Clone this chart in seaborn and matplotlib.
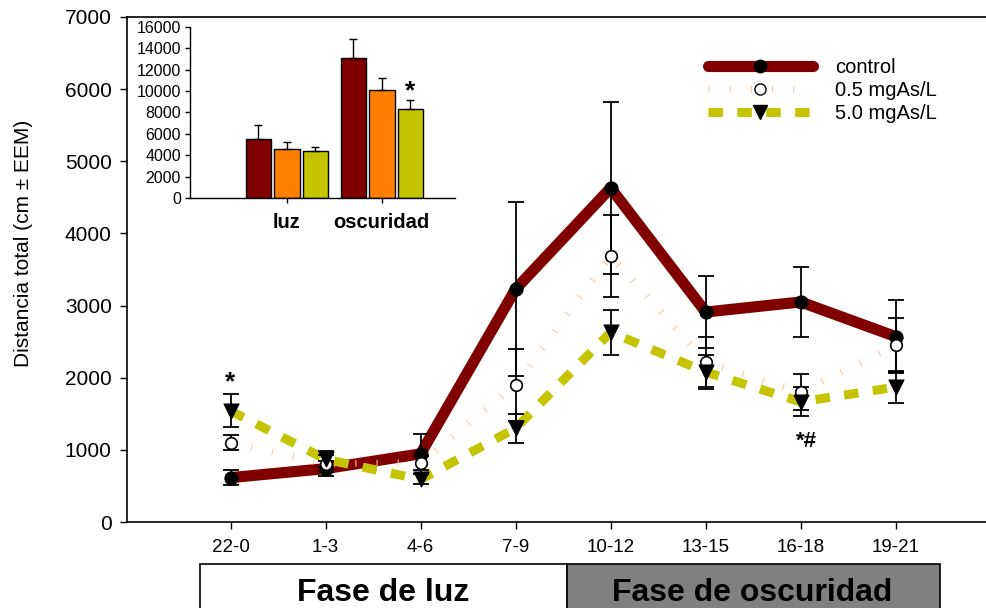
import numpy as np
import pandas as pd
import matplotlib
matplotlib.use("Agg")
import matplotlib.pyplot as plt
from matplotlib.lines import Line2D
from matplotlib.patches import Rectangle
from matplotlib import font_manager
import seaborn as sns

# ---------------- data ----------------
periods = ['22-0', '1-3', '4-6', '7-9', '10-12', '13-15', '16-18', '19-21']
control_mean = [615, 740, 945, 3230, 4630, 2910, 3050, 2570]
control_sem = [105, 100, 280, 1210, 1190, 500, 490, 510]
low_mean = [1100, 810, 820, 1900, 3690, 2220, 1800, 2455]
low_sem = [100, 120, 100, 500, 570, 350, 250, 375]
high_mean = [1540, 870, 590, 1300, 2630, 2080, 1665, 1870]
high_sem = [230, 110, 70, 200, 310, 230, 200, 220]

groups = ['control', '0.5 mgAs/L', '5.0 mgAs/L']
phases = ['luz', 'oscuridad']
inset_control = [5520, 13130]
inset_control_sem = [1310, 1780]
inset_low = [4580, 10100]
inset_low_sem = [660, 1100]
inset_high = [4400, 8330]
inset_high_sem = [370, 810]

yticks = [0, 1000, 2000, 3000, 4000, 5000, 6000, 7000]
inset_yticks = [0, 2000, 4000, 6000, 8000, 10000, 12000, 14000, 16000]

# ---------------- style ----------------
sns.set_theme(style='ticks')
names = {f.name for f in font_manager.fontManager.ttflist}
base = 'Liberation Sans' if 'Liberation Sans' in names else 'DejaVu Sans'
narrow = 'Liberation Sans Narrow' if 'Liberation Sans Narrow' in names else base
plt.rcParams['font.family'] = [base, 'DejaVu Sans']
for k in ['text.color', 'axes.labelcolor', 'xtick.color', 'ytick.color',
          'axes.edgecolor']:
    plt.rcParams[k] = 'black'

c_ctrl = '#800000'
c_low = '#ff8000'
c_low_line = '#fcc8a0'
c_high = '#c4c400'

fig = plt.figure(figsize=(9.86, 6.08), dpi=100)
ax = fig.add_axes([127 / 986, 1 - 522 / 608, 1 - 127 / 986, (522 - 17) / 608])

df = pd.DataFrame({'period': periods,
                   'control': control_mean, 'low': low_mean, 'high': high_mean})

# lines
sns.lineplot(data=df, x='period', y='control', color=c_ctrl, lw=8, ax=ax,
             sort=False, zorder=2)
sns.lineplot(data=df, x='period', y='low', color=c_low_line, lw=5, ax=ax,
             sort=False, zorder=2.1)
ax.lines[-1].set_dashes((0.15, 2.9))
ax.lines[-1].set_dash_capstyle('butt')
sns.lineplot(data=df, x='period', y='high', color=c_high, lw=6.5, ax=ax,
             sort=False, zorder=2.2)
ax.lines[-1].set_dashes((1.6, 1.6))
ax.lines[-1].set_dash_capstyle('butt')

# error bars
for m, s in [(control_mean, control_sem), (low_mean, low_sem), (high_mean, high_sem)]:
    ax.errorbar(periods, m, yerr=s, fmt='none', ecolor='black', elinewidth=1.3,
                capsize=6, capthick=1.3, zorder=3)

# markers
sns.scatterplot(data=df, x='period', y='control', marker='o', s=90, color='black',
                edgecolor='black', ax=ax, zorder=4)
sns.scatterplot(data=df, x='period', y='low', marker='o', s=70, color='white',
                edgecolor='black', linewidth=1.2, ax=ax, zorder=4)
sns.scatterplot(data=df, x='period', y='high', marker='v', s=115, color='black',
                edgecolor='black', ax=ax, zorder=4)

ax.set_xlim(-1.09, 7.95)
ax.set_ylim(0, 7000)
ax.set_yticks(yticks)
ax.set_yticklabels([str(v) for v in yticks], fontsize=15)
ax.tick_params(axis='y', length=5, width=1, pad=6, color='black')
ax.tick_params(axis='x', length=5, width=1, pad=7, color='black', labelsize=13.5)
for lab in ax.get_xticklabels():
    lab.set_family([narrow, base])
ax.set_xlabel('')
ax.set_ylabel('Distancia total (cm ± EEM)', fontsize=15, family=[narrow, base])
ax.yaxis.set_label_coords(-0.109, 0.552)
for sp in ['left', 'bottom', 'top']:
    ax.spines[sp].set_linewidth(1.2)
    ax.spines[sp].set_color('black')
ax.spines['right'].set_visible(False)

# significance marks
ax.text(periods[0], 1930, '*', ha='center', va='center', fontsize=19, fontweight='bold')
ax.text(6.06, 1110, '*#', ha='center', va='center', fontsize=16, fontweight='bold')

# legend
handles = [
    Line2D([0], [0], color=c_ctrl, lw=8, marker='o', markersize=9,
           markerfacecolor='black', markeredgecolor='black'),
    Line2D([0], [0], color=c_low_line, lw=5, dashes=(0.15, 2.9), marker='o',
           markersize=8, markerfacecolor='white', markeredgecolor='black'),
    Line2D([0], [0], color=c_high, lw=6.5, dashes=(1.6, 1.6), marker='v',
           markersize=10, markerfacecolor='black', markeredgecolor='black'),
]
for h in handles:
    h.set_dash_capstyle('butt')
fig.legend(handles, groups, loc='upper left', bbox_to_anchor=(708 / 986, 1 - 58 / 608),
           frameon=False, fontsize=14.5, handlelength=5.2, handletextpad=1.1,
           labelspacing=0.2, borderpad=0, borderaxespad=0, numpoints=1)

# ---------------- inset ----------------
axi = fig.add_axes([190 / 986, 1 - 198 / 608, (455 - 190) / 986, (198 - 27) / 608])
idf = pd.DataFrame({
    'phase': phases * 3,
    'group': [g for g in groups for _ in phases],
    'value': inset_control + inset_low + inset_high,
})
sems = inset_control_sem + inset_low_sem + inset_high_sem
sns.barplot(data=idf, x='phase', y='value', hue='group', hue_order=groups,
            palette=[c_ctrl, c_low, c_high], saturation=1, errorbar=None,
            width=0.9, gap=0.1, edgecolor='black', linewidth=1, legend=False, ax=axi)
bars = [p for p in axi.patches if isinstance(p, Rectangle)][:len(sems)]
xs = [b.get_x() + b.get_width() / 2 for b in bars]
hs = [b.get_height() for b in bars]
axi.errorbar(xs, hs, yerr=[np.zeros(len(sems)), sems], fmt='none', ecolor='black',
             elinewidth=1, capsize=3, capthick=1)
axi.text(xs[-1], 10000, '*', ha='center', va='center', fontsize=19, fontweight='bold')
axi.set_xlim(-1.02, 1.77)
axi.set_ylim(0, 16000)
axi.set_yticks(inset_yticks)
axi.set_yticklabels([str(v) for v in inset_yticks], fontsize=11.5)
axi.set_xticks([0, 1])
axi.set_xticklabels(phases, fontsize=14.5, fontweight='bold')
axi.tick_params(axis='both', length=3.5, width=1, pad=3, color='black')
axi.tick_params(axis='x', pad=7)
axi.set_xlabel('')
axi.set_ylabel('')
axi.spines['top'].set_visible(False)
axi.spines['right'].set_visible(False)
for sp in ['left', 'bottom']:
    axi.spines[sp].set_color('black')
    axi.spines[sp].set_linewidth(1)
axi.patch.set_alpha(0)

# ---------------- phase boxes ----------------
W, H = 986, 608
fig.patches.append(Rectangle((200 / W, -0.05), (567 - 200) / W, 0.05 + (608 - 564) / H,
                             transform=fig.transFigure, facecolor='white',
                             edgecolor='black', lw=1.2))
fig.patches.append(Rectangle((567 / W, -0.05), (940 - 567) / W, 0.05 + (608 - 564) / H,
                             transform=fig.transFigure, facecolor='#808080',
                             edgecolor='black', lw=1.2))
fig.text(383 / W, 1 - 593 / H, 'Fase de luz', ha='center', va='center',
         fontsize=23, fontweight='bold')
fig.text(752 / W, 1 - 593 / H, 'Fase de oscuridad', ha='center', va='center',
         fontsize=23, fontweight='bold')

fig.savefig('out.png', dpi=100)
